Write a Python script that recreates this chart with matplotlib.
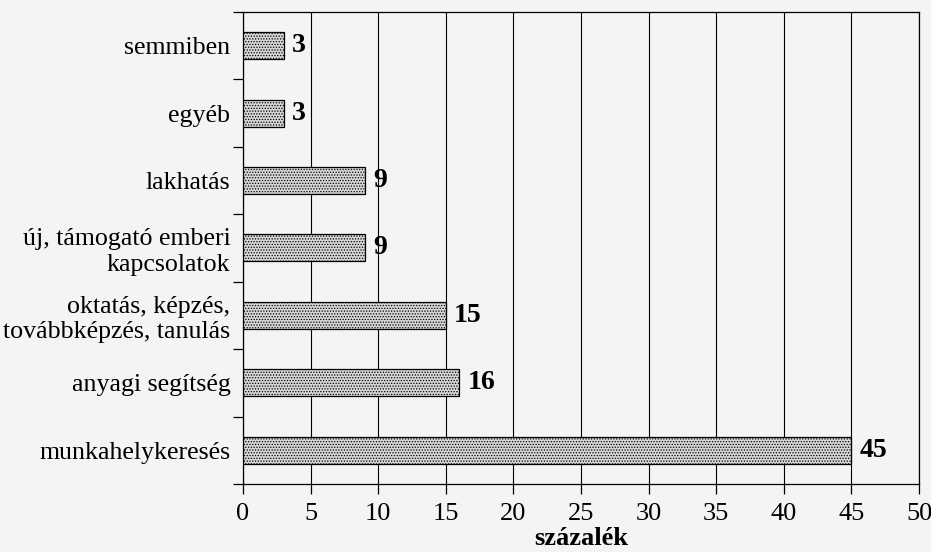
import numpy as np
import matplotlib
matplotlib.use("Agg")
import matplotlib.pyplot as plt
from matplotlib.ticker import MultipleLocator, FixedLocator

# data, top to bottom as in the figure
categories = [
    "semmiben",
    "egyéb",
    "lakhatás",
    "új, támogató emberi\nkapcsolatok",
    "oktatás, képzés,\ntovábbképzés, tanulás",
    "anyagi segítség",
    "munkahelykeresés",
]
values = [3, 3, 9, 9, 15, 16, 45]
x_label = "százalék"

plt.rcParams["font.family"] = ["Liberation Serif", "DejaVu Serif"]
plt.rcParams["hatch.color"] = "#858585"
plt.rcParams["hatch.linewidth"] = 0.6

bg = "#f4f4f6"
fig = plt.figure(figsize=(9.31, 5.52), dpi=100, facecolor=bg)
ax = fig.add_axes([0.2610, 0.1232, 0.7262, 0.8551])
ax.set_facecolor(bg)

y = np.arange(len(categories))
bars = ax.barh(y, values, height=0.4, color="#d6d6d6", edgecolor="black",
               linewidth=0.9, hatch="......", zorder=3)

ax.set_xlim(0, 50)
ax.set_ylim(len(categories) - 0.5, -0.5)

ax.xaxis.set_major_locator(MultipleLocator(5))
ax.grid(axis="x", color="black", linewidth=0.8, zorder=1)

ax.set_yticks(y)
ax.set_yticklabels(categories, fontsize=18.6, linespacing=1.2)
ax.yaxis.set_minor_locator(FixedLocator(np.arange(len(categories) + 1) - 0.5))
ax.tick_params(axis="y", which="major", length=0, pad=9)
ax.tick_params(axis="y", which="minor", length=7, width=0.9, direction="out")
ax.tick_params(axis="x", length=7, width=0.9, direction="out", labelsize=19, pad=7)

for s in ax.spines.values():
    s.set_color("black")
    s.set_linewidth(0.9)

ax.bar_label(bars, padding=6, fontsize=20, fontweight="bold")

ax.set_xlabel(x_label, fontsize=19, fontweight="bold", labelpad=1)

plt.savefig("out.png", dpi=100, facecolor=bg)
